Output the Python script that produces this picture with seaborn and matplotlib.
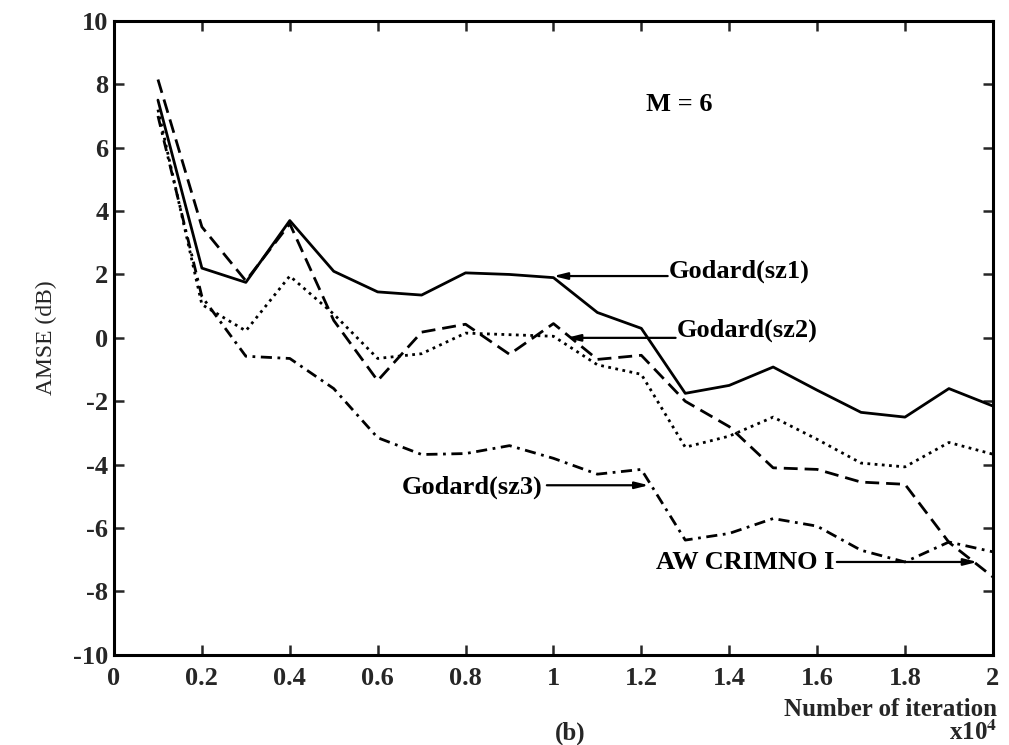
import matplotlib
matplotlib.use("Agg")
import matplotlib.pyplot as plt
import seaborn as sns
import pandas as pd

iterations = [0.1, 0.2, 0.3, 0.4, 0.5, 0.6, 0.7, 0.8, 0.9, 1.0,
              1.1, 1.2, 1.3, 1.4, 1.5, 1.6, 1.7, 1.8, 1.9, 2.0]
godard_sz1 = [7.5, 2.2, 1.75, 3.7, 2.1, 1.45, 1.35, 2.05, 2.0, 1.9,
              0.8, 0.3, -1.75, -1.5, -0.92, -1.65, -2.35, -2.5, -1.6, -2.15]
godard_sz2 = [7.2, 1.05, 0.22, 1.95, 0.75, -0.65, -0.5, 0.15, 0.1, 0.05,
              -0.85, -1.15, -3.45, -3.1, -2.5, -3.2, -3.95, -4.07, -3.3, -3.67]
aw_crimno = [8.15, 3.5, 1.8, 3.6, 0.55, -1.35, 0.18, 0.43, -0.52, 0.45,
             -0.68, -0.55, -2.0, -2.8, -4.1, -4.15, -4.55, -4.62, -6.45, -7.54]
godard_sz3 = [7.0, 1.3, -0.58, -0.65, -1.6, -3.15, -3.68, -3.65, -3.4, -3.8,
              -4.3, -4.15, -6.38, -6.17, -5.7, -5.94, -6.7, -7.07, -6.44, -6.75]

x_ticks = [0, 0.2, 0.4, 0.6, 0.8, 1.0, 1.2, 1.4, 1.6, 1.8, 2.0]
x_tick_labels = ["0", "0.2", "0.4", "0.6", "0.8", "1", "1.2", "1.4", "1.6", "1.8", "2"]
y_ticks = [-10, -8, -6, -4, -2, 0, 2, 4, 6, 8, 10]
y_tick_labels = ["-10", "-8", "-6", "-4", "-2", "0", "2", "4", "6", "8", "10"]

sns.set_style("ticks")
plt.rcParams["font.family"] = ["Liberation Serif", "DejaVu Serif"]
plt.rcParams["mathtext.fontset"] = "stix"

fig = plt.figure(figsize=(10.09, 7.45), dpi=100)
ax = fig.add_axes([0.113, 0.121, 0.871, 0.851])

df = pd.DataFrame({"x": iterations, "sz1": godard_sz1, "sz2": godard_sz2,
                   "aw": aw_crimno, "sz3": godard_sz3})

sns.lineplot(data=df, x="x", y="sz1", ax=ax, color="black", lw=2.0, linestyle="-")
sns.lineplot(data=df, x="x", y="sz2", ax=ax, color="black", lw=2.0,
             linestyle=(0, (1, 1.6)))
sns.lineplot(data=df, x="x", y="aw", ax=ax, color="black", lw=2.0,
             linestyle=(0, (5, 2.5)))
sns.lineplot(data=df, x="x", y="sz3", ax=ax, color="black", lw=2.0,
             linestyle=(0, (4, 2, 1, 2)))

ax.set_xlim(0, 2)
ax.set_ylim(-10, 10)
ax.set_xticks(x_ticks)
ax.set_xticklabels(x_tick_labels)
ax.set_yticks(y_ticks)
ax.set_yticklabels(y_tick_labels)
ax.tick_params(direction="in", top=True, right=True, length=7, width=1.8,
               labelsize=19)
ax.tick_params(axis="y", pad=4)
ax.tick_params(axis="x", pad=9)
for lab in ax.get_xticklabels() + ax.get_yticklabels():
    lab.set_fontweight("bold")
for sp in ax.spines.values():
    sp.set_linewidth(2.2)
    sp.set_color("black")

ax.set_xlabel("")
ax.set_ylabel("AMSE (dB)", fontsize=17, labelpad=12)

txt_kw = dict(fontsize=19, fontweight="bold", color="black")
ax.text(1.21, 7.35, "M = 6", ha="left", va="center", **txt_kw)

arrow = dict(arrowstyle="-|>,head_length=0.8,head_width=0.2", color="black", lw=1.6,
             shrinkA=0, shrinkB=0)

ax.text(1.262, 2.1, "Godard(sz1)", ha="left", va="center", **txt_kw)
ax.annotate("", xy=(1.0, 1.95), xytext=(1.26, 1.95), arrowprops=arrow)

ax.text(1.28, 0.25, "Godard(sz2)", ha="left", va="center", **txt_kw)
ax.annotate("", xy=(1.03, 0.0), xytext=(1.278, 0.0), arrowprops=arrow)

ax.text(0.975, -4.7, "Godard(sz3)", ha="right", va="center", **txt_kw)
ax.annotate("", xy=(1.217, -4.65), xytext=(0.985, -4.65), arrowprops=arrow)

ax.text(1.64, -7.1, "AW CRIMNO I", ha="right", va="center", **txt_kw)
ax.annotate("", xy=(1.965, -7.07), xytext=(1.645, -7.07), arrowprops=arrow)

fig.text(0.988, 0.032, "Number of iteration", ha="right", va="bottom",
         fontsize=18, fontweight="bold")
fig.text(0.988, 0.0, r"x10$^{\mathbf{4}}$", ha="right", va="bottom",
         fontsize=18, fontweight="bold")
fig.text(0.565, 0.0, "(b)", ha="center", va="bottom", fontsize=18, fontweight="bold")

fig.savefig("out.png", dpi=100)
